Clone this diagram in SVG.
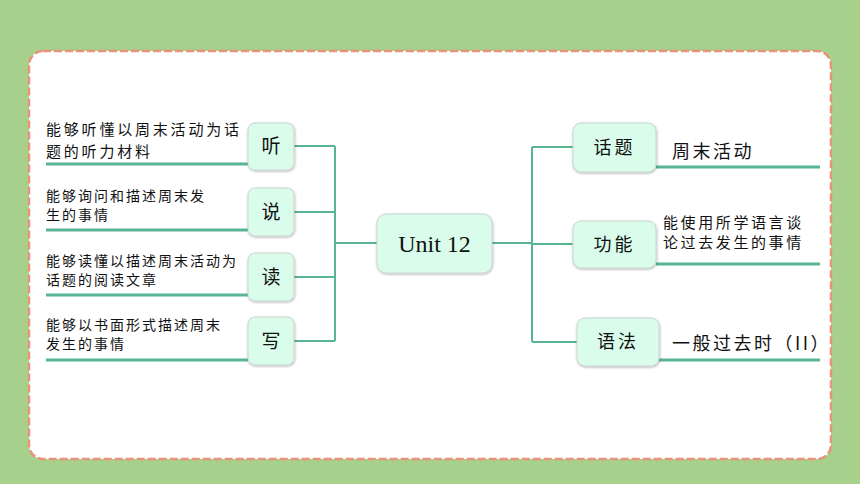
<svg xmlns="http://www.w3.org/2000/svg" width="860" height="484" viewBox="0 0 860 484">
<defs>
<filter id="sh" x="-20%" y="-20%" width="140%" height="140%">
<feDropShadow dx="0.5" dy="1" stdDeviation="1" flood-color="#000" flood-opacity="0.3"/>
</filter>
<style>
.box{fill:#DAFCEB;stroke:#C9D6CF;stroke-width:1;filter:url(#sh)}
.ln{stroke:#58B592;stroke-width:2;fill:none}
.ul{stroke:#58B592;stroke-width:3;fill:none}
.lbl{font-family:"Noto Sans CJK SC","Noto Sans",sans-serif;font-size:19px;fill:#111;text-anchor:middle}
.t{font-family:"Noto Sans CJK SC","Noto Sans",sans-serif;font-size:14px;fill:#111;letter-spacing:2px}
</style>
</defs>
<rect x="0" y="0" width="860" height="484" fill="#A8D08D"/>
<rect x="29" y="51" width="802" height="408" rx="14" fill="#fff" stroke="#E8937A" stroke-width="2.5" stroke-dasharray="8 3"/>
<g id="connectors">
<path class="ln" d="M294 146H335M294 212H335M294 277H335M294 341H335M335 146V341M335 243H377"/>
<path class="ln" d="M492 243H532M532 147V342M532 147H573M532 244H573M532 342H577"/>
<path class="ul" d="M46 164H248M46 230H248M46 295H248M46 360H248"/>
<path class="ul" d="M656 167H820M656 264H820M659 360H820"/>
</g>
<g id="center">
<rect class="box" x="377" y="214" width="115" height="59" rx="9"/>
<text x="434.5" y="252" font-family="'Liberation Serif',serif" font-size="24" text-anchor="middle" fill="#111">Unit 12</text>
</g>
<g id="ting">
<rect class="box" x="248" y="123" width="46" height="47" rx="7"/>
<text class="lbl" x="271" y="153">听</text>
<text class="t" x="46" y="135" style="font-size:15px;letter-spacing:2.8px">能够听懂以周末活动为话</text>
<text class="t" x="46" y="157" style="font-size:15px;letter-spacing:2.8px">题的听力材料</text>
</g>
<g id="shuo">
<rect class="box" x="248" y="188" width="46" height="48" rx="7"/>
<text class="lbl" x="271" y="219">说</text>
<text class="t" x="46" y="201">能够询问和描述周末发</text>
<text class="t" x="46" y="220">生的事情</text>
</g>
<g id="du">
<rect class="box" x="248" y="253" width="46" height="48" rx="7"/>
<text class="lbl" x="271" y="284">读</text>
<text class="t" x="46" y="266">能够读懂以描述周末活动为</text>
<text class="t" x="46" y="285">话题的阅读文章</text>
</g>
<g id="xie">
<rect class="box" x="248" y="317" width="46" height="48" rx="7"/>
<text class="lbl" x="271" y="348">写</text>
<text class="t" x="46" y="330">能够以书面形式描述周末</text>
<text class="t" x="46" y="349">发生的事情</text>
</g>
<g id="huati">
<rect class="box" x="573" y="123" width="83" height="49" rx="8"/>
<text class="lbl" x="614.5" y="154" style="font-size:18px;letter-spacing:3px">话题</text>
<text class="t" x="672" y="158" style="font-size:18px;letter-spacing:2.5px">周末活动</text>
</g>
<g id="gongneng">
<rect class="box" x="573" y="221" width="83" height="47" rx="8"/>
<text class="lbl" x="614.5" y="251" style="font-size:18px;letter-spacing:3px">功能</text>
<text class="t" x="663" y="228" style="font-size:15px;letter-spacing:2.6px">能使用所学语言谈</text>
<text class="t" x="663" y="248" style="font-size:15px;letter-spacing:2.6px">论过去发生的事情</text>
</g>
<g id="yufa">
<rect class="box" x="577" y="318" width="82" height="48" rx="8"/>
<text class="lbl" x="618" y="348" style="font-size:18px;letter-spacing:3px">语法</text>
<text class="t" x="672" y="350" style="font-size:18px;letter-spacing:2.5px">一般过去时（II）</text>
</g>
</svg>
